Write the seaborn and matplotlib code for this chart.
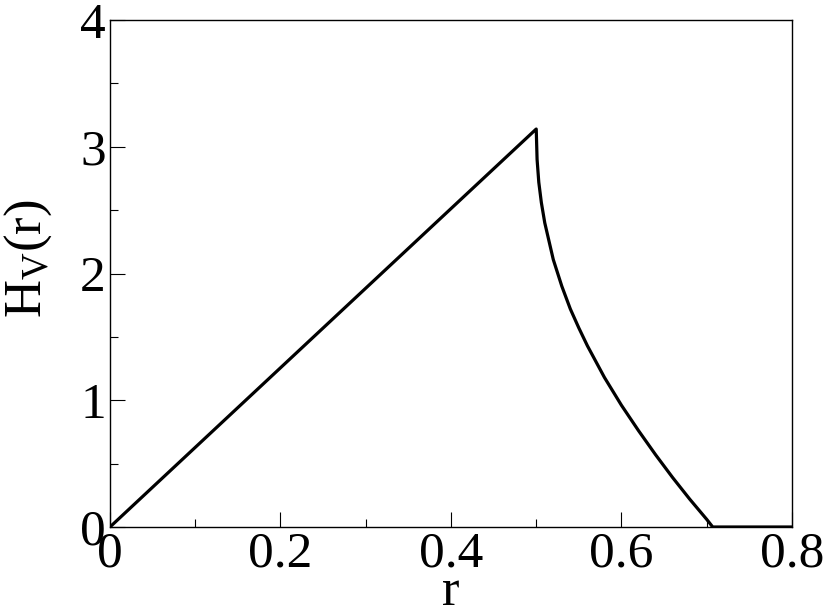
import matplotlib
matplotlib.use("Agg")
import matplotlib.pyplot as plt
import seaborn as sns
import pandas as pd
from matplotlib.ticker import MultipleLocator, FormatStrFormatter

# values
r_rise = [0.0, 0.25, 0.5]
h_rise = [0.0, 1.57, 3.14]
r_fall = [0.501, 0.503, 0.506, 0.51, 0.52, 0.53, 0.54, 0.55, 0.56, 0.58,
          0.60, 0.62, 0.64, 0.66, 0.68, 0.70, 0.707]
h_fall = [2.90, 2.72, 2.56, 2.40, 2.11, 1.90, 1.72, 1.57, 1.43, 1.18,
          0.96, 0.76, 0.57, 0.39, 0.22, 0.06, 0.0]
r_flat = [0.75, 0.8]
h_flat = [0.0, 0.0]

df = pd.DataFrame({"r": r_rise + r_fall + r_flat,
                   "H": h_rise + h_fall + h_flat})

sns.set_style("ticks")
plt.rcParams['font.family'] = ['Liberation Serif', 'DejaVu Serif']
plt.rcParams['mathtext.fontset'] = 'custom'
plt.rcParams['mathtext.rm'] = 'Liberation Serif'
plt.rcParams['mathtext.it'] = 'Liberation Serif:italic'
plt.rcParams['text.color'] = 'black'
plt.rcParams['axes.labelcolor'] = 'black'
plt.rcParams['xtick.color'] = 'black'
plt.rcParams['ytick.color'] = 'black'

fig = plt.figure(figsize=(8.3, 6.14), dpi=100)
ax = fig.add_axes([0.1325, 0.1417, 0.8217, 0.8257])

sns.lineplot(data=df, x="r", y="H", estimator=None, sort=False,
             color="black", linewidth=2.3, ax=ax)

ax.set_xlim(0, 0.8)
ax.set_ylim(0, 4)
ax.xaxis.set_major_locator(MultipleLocator(0.2))
ax.xaxis.set_minor_locator(MultipleLocator(0.1))
ax.yaxis.set_major_locator(MultipleLocator(1))
ax.yaxis.set_minor_locator(MultipleLocator(0.5))
ax.xaxis.set_major_formatter(FormatStrFormatter("%g"))
ax.yaxis.set_major_formatter(FormatStrFormatter("%g"))
ax.tick_params(which="major", direction="in", length=11, width=0.8,
               labelsize=37, pad=3)
ax.tick_params(which="minor", direction="in", length=5.5, width=0.8)
for s in ax.spines.values():
    s.set_linewidth(1.0)
    s.set_color("black")

ax.set_xlabel("r", fontsize=38, labelpad=-7)
ax.set_ylabel(r"H$_{\mathrm{V}}$(r)", fontsize=38)
ax.yaxis.set_label_coords(-0.082, 0.53)

fig.savefig("out.png", dpi=100)
